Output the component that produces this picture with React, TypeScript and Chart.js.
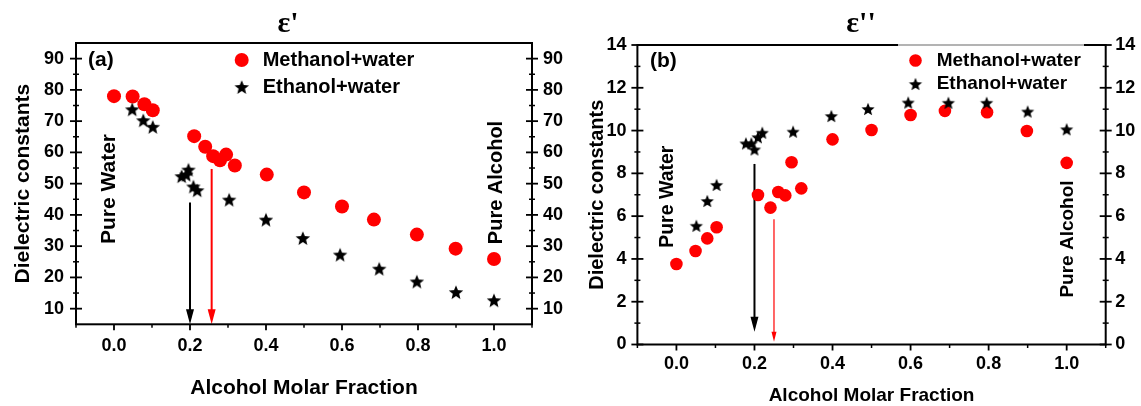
import React, { useEffect, useRef } from 'react';
import { Chart, registerables } from 'chart.js';
Chart.register(...registerables);

// ---------- Data: panel (a) ε' ----------
const aMethX = [0, 0.049, 0.08, 0.102, 0.211, 0.24, 0.261, 0.279, 0.295, 0.318, 0.402, 0.5, 0.6, 0.684, 0.797, 0.899, 1.0];
const aMethY = [78.0, 77.9, 75.4, 73.5, 65.2, 61.8, 58.8, 57.5, 59.3, 55.8, 52.9, 47.2, 42.7, 38.5, 33.7, 29.2, 25.9];
const aEthX = [0.048, 0.077, 0.102, 0.178, 0.19, 0.196, 0.209, 0.219, 0.303, 0.4, 0.497, 0.595, 0.698, 0.797, 0.9, 1.0];
const aEthY = [73.8, 70.3, 68.2, 52.4, 52.9, 54.5, 49.1, 47.9, 44.9, 38.5, 32.6, 27.3, 22.8, 18.7, 15.3, 12.7];
const aYTicks = [10, 20, 30, 40, 50, 60, 70, 80, 90];
const aYMinor = [15, 25, 35, 45, 55, 65, 75, 85];
// arrows: [x, yFrom, yTo]
const aArrowBlack = [0.2, 44.0, 5.0];
const aArrowRed = [0.257, 54.7, 5.0];

// ---------- Data: panel (b) ε'' ----------
const bMethX = [0, 0.049, 0.079, 0.103, 0.209, 0.241, 0.261, 0.279, 0.295, 0.32, 0.4, 0.5, 0.6, 0.688, 0.796, 0.898, 1.0];
const bMethY = [3.76, 4.37, 4.96, 5.48, 6.99, 6.4, 7.13, 6.97, 8.52, 7.3, 9.59, 10.03, 10.73, 10.92, 10.86, 9.98, 8.49];
const bEthX = [0.051, 0.079, 0.103, 0.178, 0.192, 0.2, 0.209, 0.22, 0.299, 0.397, 0.491, 0.594, 0.697, 0.795, 0.9, 1.0];
const bEthY = [5.55, 6.71, 7.46, 9.4, 9.4, 9.12, 9.69, 9.9, 9.95, 10.68, 11.01, 11.31, 11.3, 11.3, 10.89, 10.06];
const bYTicks = [0, 2, 4, 6, 8, 10, 12, 14];
const bYMinor = [1, 3, 5, 7, 9, 11, 13];
const bArrowBlack = [0.2, 8.44, 0.6];
const bArrowRed = [0.25, 5.85, 0.13];

// ---------- shared ----------
const xTicks = [0, 0.2, 0.4, 0.6, 0.8, 1.0];
const xMinor = [-0.1, 0.1, 0.3, 0.5, 0.7, 0.9, 1.1];
const seriesNames = ['Methanol+water', 'Ethanol+water'];

const SANS = '"Liberation Sans", Arial, sans-serif';
const SERIF = '"Liberation Serif", "Times New Roman", serif';

function makeStar(r: number, color: string) {
  const s = Math.ceil(r * 2 + 2);
  const c = document.createElement('canvas');
  c.width = s;
  c.height = s;
  const g = c.getContext('2d')!;
  g.fillStyle = color;
  g.beginPath();
  for (let i = 0; i < 10; i++) {
    const rad = i % 2 === 0 ? r : r * 0.44;
    const a = -Math.PI / 2 + (i * Math.PI) / 5;
    const x = s / 2 + rad * Math.cos(a);
    const y = s / 2 + r * 0.1 + rad * Math.sin(a);
    if (i === 0) g.moveTo(x, y);
    else g.lineTo(x, y);
  }
  g.closePath();
  g.fill();
  return c;
}

type PanelProps = {
  left: number;
  width: number;
  methX: number[];
  methY: number[];
  ethX: number[];
  ethY: number[];
  yMin: number;
  yMax: number;
  yTicks: number[];
  yMinor: number[];
  arrowBlack: number[];
  arrowRed: number[];
  redArrowThin: boolean;
  geom: {
    leftW: number; rightW: number; top: number; bottomH: number;
    yTitleSize: number; yTitlePad: number; xTitleSize: number; xTitlePad: number;
    leftPad: number; rightPad: number; xPad: number;
  };
  circleR: number;
  starR: number;
  title: string;
  titleX: number;
  tag: string;
  tagX: number;
  tagY: number;
  legX: number;
  legY1: number;
  legY2: number;
  legTextX: number;
  legSize: number;
  pw: [number, number, number];
  pa: [number, number, number];
  graySeg?: [number, number];
};

function Panel(p: PanelProps) {
  const ref = useRef<HTMLCanvasElement>(null);
  useEffect(() => {
    if (!ref.current) return;
    const star = makeStar(p.starR, '#000');
    const g = p.geom;

    const drawArrow = (ctx: CanvasRenderingContext2D, x: number, y1: number, y2: number, color: string, lw: number, hw: number, hl: number) => {
      ctx.strokeStyle = color;
      ctx.fillStyle = color;
      ctx.lineWidth = lw;
      ctx.beginPath();
      ctx.moveTo(x, y1);
      ctx.lineTo(x, y2 - hl + 1);
      ctx.stroke();
      ctx.beginPath();
      ctx.moveTo(x - hw, y2 - hl);
      ctx.lineTo(x + hw, y2 - hl);
      ctx.lineTo(x, y2);
      ctx.closePath();
      ctx.fill();
    };

    const deco = {
      id: 'deco',
      beforeDatasetsDraw(chart: any) {
        const { ctx, scales } = chart;
        const xs = scales.x, ys = scales.y;
        ctx.save();
        const ab = p.arrowBlack, ar = p.arrowRed;
        drawArrow(ctx, xs.getPixelForValue(ab[0]), ys.getPixelForValue(ab[1]), ys.getPixelForValue(ab[2]), '#000', 2, 4, 15);
        if (p.redArrowThin) {
          drawArrow(ctx, xs.getPixelForValue(ar[0]), ys.getPixelForValue(ar[1]), ys.getPixelForValue(ar[2]), '#ff0000', 1.2, 2.5, 10);
        } else {
          drawArrow(ctx, xs.getPixelForValue(ar[0]), ys.getPixelForValue(ar[1]), ys.getPixelForValue(ar[2]), '#ff0000', 2, 4, 15);
        }
        ctx.restore();
      },
      afterDraw(chart: any) {
        const { ctx, chartArea: ca, scales } = chart;
        const xs = scales.x, ys = scales.y;
        ctx.save();
        const line = (x1: number, y1: number, x2: number, y2: number) => {
          ctx.beginPath();
          ctx.moveTo(x1, y1);
          ctx.lineTo(x2, y2);
          ctx.stroke();
        };
        // frame
        ctx.strokeStyle = '#000';
        ctx.lineWidth = 2;
        ctx.strokeRect(ca.left, ca.top, ca.right - ca.left, ca.bottom - ca.top);
        if (p.graySeg) {
          ctx.strokeStyle = '#ffffff';
          ctx.lineWidth = 2.5;
          line(p.graySeg[0], ca.top, p.graySeg[1], ca.top);
          ctx.strokeStyle = '#9a9a9a';
          ctx.lineWidth = 1.5;
          line(p.graySeg[0], ca.top, p.graySeg[1], ca.top);
        }
        // ticks
        ctx.strokeStyle = '#000';
        ctx.lineWidth = 1.8;
        for (const v of p.yTicks) {
          const y = ys.getPixelForValue(v);
          line(ca.left - 6, y, ca.left + 6, y);
          line(ca.right - 6, y, ca.right + 6, y);
        }
        ctx.lineWidth = 1.5;
        for (const v of p.yMinor) {
          const y = ys.getPixelForValue(v);
          line(ca.left - 3, y, ca.left + 3, y);
          line(ca.right - 3, y, ca.right + 3, y);
        }
        ctx.lineWidth = 1.8;
        for (const v of xTicks) {
          const x = xs.getPixelForValue(v);
          line(x, ca.bottom, x, ca.bottom + 6);
        }
        ctx.lineWidth = 1.5;
        for (const v of xMinor) {
          const x = xs.getPixelForValue(v);
          line(x, ca.bottom, x, ca.bottom + 3.5);
        }
        // title
        ctx.fillStyle = '#000';
        ctx.textAlign = 'center';
        ctx.textBaseline = 'middle';
        ctx.font = `bold 30px ${SERIF}`;
        ctx.fillText(p.title, p.titleX, 24);
        // tag
        ctx.textAlign = 'left';
        ctx.font = `bold 21px ${SANS}`;
        ctx.fillText(p.tag, p.tagX, p.tagY);
        // legend
        ctx.fillStyle = '#ff0000';
        ctx.beginPath();
        ctx.arc(p.legX, p.legY1, p.circleR, 0, Math.PI * 2);
        ctx.fill();
        ctx.drawImage(star, p.legX - star.width / 2, p.legY2 - star.height / 2);
        ctx.fillStyle = '#000';
        ctx.font = `bold ${p.legSize}px ${SANS}`;
        ctx.fillText(seriesNames[0], p.legTextX, p.legY1);
        ctx.fillText(seriesNames[1], p.legTextX, p.legY2);
        // vertical labels
        const vtext = (t: string, x: number, y: number, size: number) => {
          ctx.save();
          ctx.translate(x, y);
          ctx.rotate(-Math.PI / 2);
          ctx.textAlign = 'center';
          ctx.textBaseline = 'middle';
          ctx.font = `bold ${size}px ${SANS}`;
          ctx.fillText(t, 0, 0);
          ctx.restore();
        };
        vtext('Pure Water', p.pw[0], p.pw[1], p.pw[2]);
        vtext('Pure Alcohol', p.pa[0], p.pa[1], p.pa[2]);
        ctx.restore();
      },
    };

    const tickFont = { family: SANS, size: 18, weight: 'bold' as const };
    const yScaleBase = {
      type: 'linear' as const,
      min: p.yMin,
      max: p.yMax,
      afterBuildTicks: (s: any) => {
        s.ticks = p.yTicks.map((v) => ({ value: v }));
      },
      grid: { display: false, drawTicks: false },
      border: { display: false },
    };

    const chart = new Chart(ref.current, {
      type: 'scatter',
      data: {
        datasets: [
          {
            label: seriesNames[1],
            data: p.ethX.map((x, i) => ({ x, y: p.ethY[i] })),
            pointStyle: star,
            pointRadius: p.starR,
            order: 0,
          },
          {
            label: seriesNames[0],
            data: p.methX.map((x, i) => ({ x, y: p.methY[i] })),
            pointStyle: 'circle',
            pointRadius: p.circleR,
            backgroundColor: '#ff0000',
            borderWidth: 0,
            order: 1,
          },
        ],
      },
      options: {
        animation: false,
        responsive: false,
        events: [],
        layout: { padding: { top: g.top, left: 0, right: 0, bottom: 0 } },
        plugins: { legend: { display: false }, tooltip: { enabled: false }, title: { display: false } },
        scales: {
          x: {
            type: 'linear',
            position: 'bottom',
            min: -0.1,
            max: 1.1,
            afterBuildTicks: (s: any) => {
              s.ticks = xTicks.map((v) => ({ value: v }));
            },
            afterFit: (s: any) => {
              s.height = g.bottomH;
            },
            grid: { display: false, drawTicks: false },
            border: { display: false },
            ticks: {
              padding: g.xPad,
              color: '#000',
              font: tickFont,
              maxRotation: 0,
              autoSkip: false,
              callback: (v: any) => Number(v).toFixed(1),
            },
            title: {
              display: true,
              text: 'Alcohol Molar Fraction',
              color: '#000',
              font: { family: SANS, size: g.xTitleSize, weight: 'bold', lineHeight: 1 },
              padding: { top: 0, bottom: g.xTitlePad },
            },
          },
          y: {
            ...yScaleBase,
            position: 'left',
            afterFit: (s: any) => {
              s.width = g.leftW;
            },
            ticks: { padding: g.leftPad, color: '#000', font: tickFont, callback: (v: any) => String(v) },
            title: {
              display: true,
              text: 'Dielectric constants',
              color: '#000',
              font: { family: SANS, size: g.yTitleSize, weight: 'bold', lineHeight: 1 },
              padding: { top: g.yTitlePad, bottom: 0 },
            },
          },
          y2: {
            ...yScaleBase,
            position: 'right',
            afterFit: (s: any) => {
              s.width = g.rightW;
            },
            ticks: { padding: g.rightPad, color: '#000', font: tickFont, callback: (v: any) => String(v) },
          },
        },
      },
      plugins: [deco],
    } as any);
    return () => chart.destroy();
  }, []);
  return (
    <canvas
      ref={ref}
      width={p.width}
      height={406}
      style={{ position: 'absolute', left: p.left, top: 0, width: p.width, height: 406 }}
    />
  );
}

export default function App() {
  return (
    <div style={{ position: 'absolute', left: 0, top: 0, width: 1141, height: 406, background: '#fff', overflow: 'hidden' }}>
      <Panel
        left={0}
        width={570}
        methX={aMethX}
        methY={aMethY}
        ethX={aEthX}
        ethY={aEthY}
        yMin={5}
        yMax={95}
        yTicks={aYTicks}
        yMinor={aYMinor}
        arrowBlack={aArrowBlack}
        arrowRed={aArrowRed}
        redArrowThin={false}
        geom={{ leftW: 76, rightW: 38, top: 43, bottomH: 81.7, yTitleSize: 21, yTitlePad: 12.3, xTitleSize: 21, xTitlePad: 7.5, leftPad: 12, rightPad: 11, xPad: 11 }}
        circleR={7}
        starR={7.6}
        title={"ε'"}
        titleX={288}
        tag="(a)"
        tagX={88}
        tagY={60}
        legX={241.7}
        legY1={60}
        legY2={87}
        legTextX={262.7}
        legSize={20}
        pw={[109.7, 189, 21]}
        pa={[496, 182.5, 20]}
      />
      <Panel
        left={570}
        width={571}
        methX={bMethX}
        methY={bMethY}
        ethX={bEthX}
        ethY={bEthY}
        yMin={0}
        yMax={14}
        yTicks={bYTicks}
        yMinor={bYMinor}
        arrowBlack={bArrowBlack}
        arrowRed={bArrowRed}
        redArrowThin={true}
        geom={{ leftW: 67.4, rightW: 35.3, top: 45, bottomH: 61.5, yTitleSize: 20, yTitlePad: 17, xTitleSize: 19, xTitlePad: 0.5, leftPad: 11, rightPad: 9.5, xPad: 9 }}
        circleR={6.3}
        starR={6.9}
        title={"ε''"}
        titleX={291}
        tag="(b)"
        tagX={80}
        tagY={61}
        legX={345.5}
        legY1={60.5}
        legY2={84}
        legTextX={366.7}
        legSize={19}
        pw={[97.2, 196.7, 19.5]}
        pa={[497.5, 239, 19]}
        graySeg={[328, 514]}
      />
    </div>
  );
}
